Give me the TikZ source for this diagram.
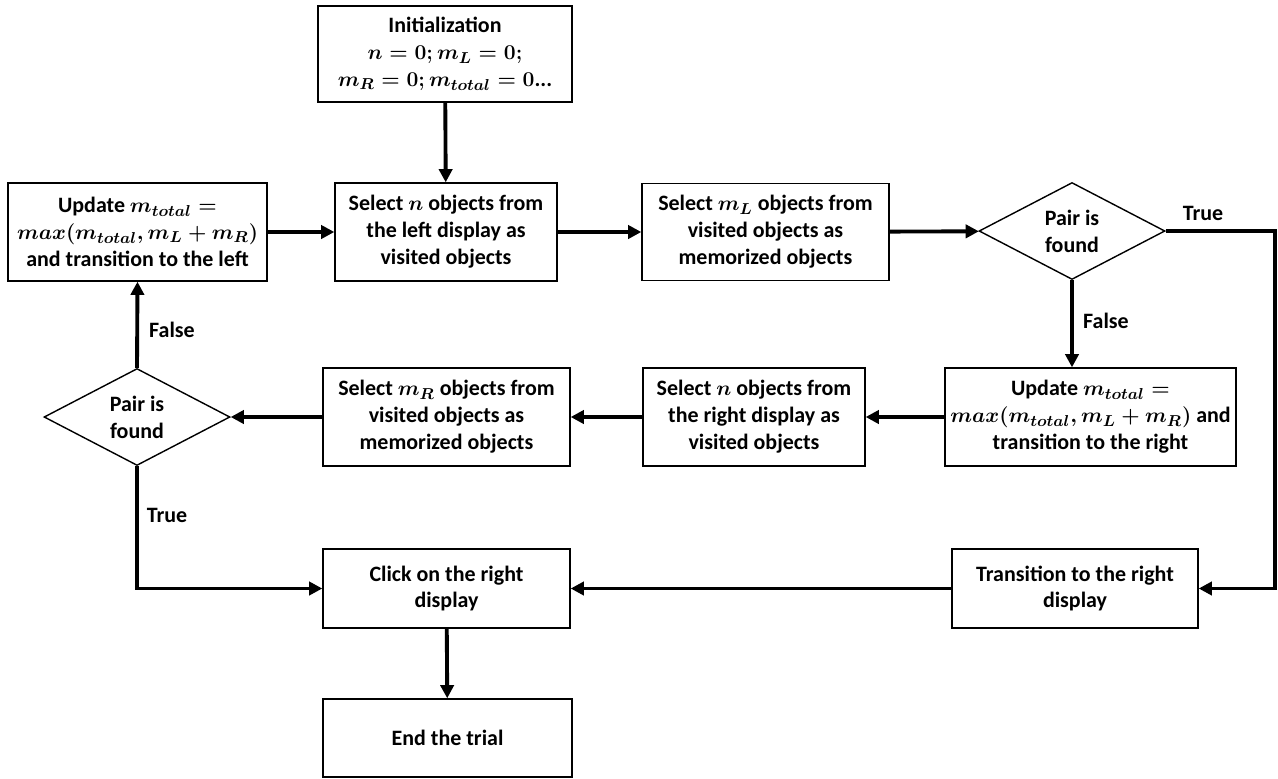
\documentclass[tikz,border=0pt]{standalone}
\usepackage{fontspec}
\usepackage{amsmath}
\setmainfont{Carlito}
\usetikzlibrary{shapes.geometric,arrows.meta}

\begin{document}
\begin{tikzpicture}[x=0.02cm, y=-0.02cm,
  every node/.style={font=\fontsize{12.5}{15.3}\selectfont\bfseries\boldmath},
  box/.style={rectangle, draw, line width=0.8pt, align=center, inner sep=2pt},
  decision/.style={diamond, draw, line width=0.8pt, align=center, inner sep=0pt, minimum width=3.72cm, minimum height=1.94cm},
  arr/.style={-{Triangle[length=7.5pt,width=7.5pt]}, line width=2.2pt}]
            \useasboundingbox (0,0) rectangle (1278,778);
            % first row
            \node[box, minimum width=5.08cm, minimum height=1.92cm] (init) at (445,54) {Initialization\\ $n=0; m_L=0;$\\ $m_R=0; m_{total}=0$...};
            \node[box, minimum width=5.18cm, minimum height=1.96cm] (updL) at (137.5,232) {Update $m_{total}=$\\ $max(m_{total}, m_L+m_R)$\\ and transition to the left};
            \node[box, minimum width=4.44cm, minimum height=1.96cm] (selN) at (446,232) {Select $n$ objects from\\ the left display as\\ visited objects};
            \node[box, minimum width=4.94cm, minimum height=1.94cm] (selML) at (765.5,232) {Select $m_L$ objects from\\ visited objects as\\ memorized objects};
            \node[decision] (dR) at (1072,231) {Pair is\\ found};
            % second row
            \node[box, minimum width=5.82cm, minimum height=1.96cm] (updR) at (1090.5,417) {Update $m_{total}=$\\ $max(m_{total}, m_L+m_R)$ and\\ transition to the right};
            \node[box, minimum width=4.44cm, minimum height=1.96cm] (selNR) at (754,417) {Select $n$ objects from\\ the right display as\\ visited objects};
            \node[box, minimum width=4.94cm, minimum height=1.96cm] (selMR) at (446.5,417) {Select $m_R$ objects from\\ visited objects as\\ memorized objects};
            \node[decision] (dL) at (137,417) {Pair is\\ found};
            % third row
            \node[box, minimum width=4.94cm, minimum height=1.58cm] (click) at (446.5,588.5) {Click on the right\\ display};
            \node[box, minimum width=4.92cm, minimum height=1.58cm] (trans) at (1075,588.5) {Transition to the right\\ display};
            \node[box, minimum width=4.98cm, minimum height=1.56cm] (end) at (447.5,738) {End the trial};
            % labels
            \node (tR) at (1203,213) {True};
            \node (fR) at (1106,321) {False};
            \node (tL) at (167,515) {True};
            \node (fL) at (172,330) {False};
            \coordinate (cornerR) at (1275,231);
            % connectors
            \draw[arr] (init) -- (selN);
            \draw[arr] (updL) -- (selN);
            \draw[arr] (selN) -- (selML);
            \draw[arr] (selML) -- (dR);
            \draw[arr] (dR.east) -- (cornerR) |- (trans.east);
            \draw[arr] (dR.south) -- (dR.south |- updR.north);
            \draw[arr] (updR) -- (selNR);
            \draw[arr] (selNR) -- (selMR);
            \draw[arr] (selMR) -- (dL);
            \draw[arr] (dL.north) -- (updL.south);
            \draw[arr] (dL.south) |- (click.west);
            \draw[arr] (trans) -- (click);
            \draw[arr] (click) -- (end);
\end{tikzpicture}
\end{document}
